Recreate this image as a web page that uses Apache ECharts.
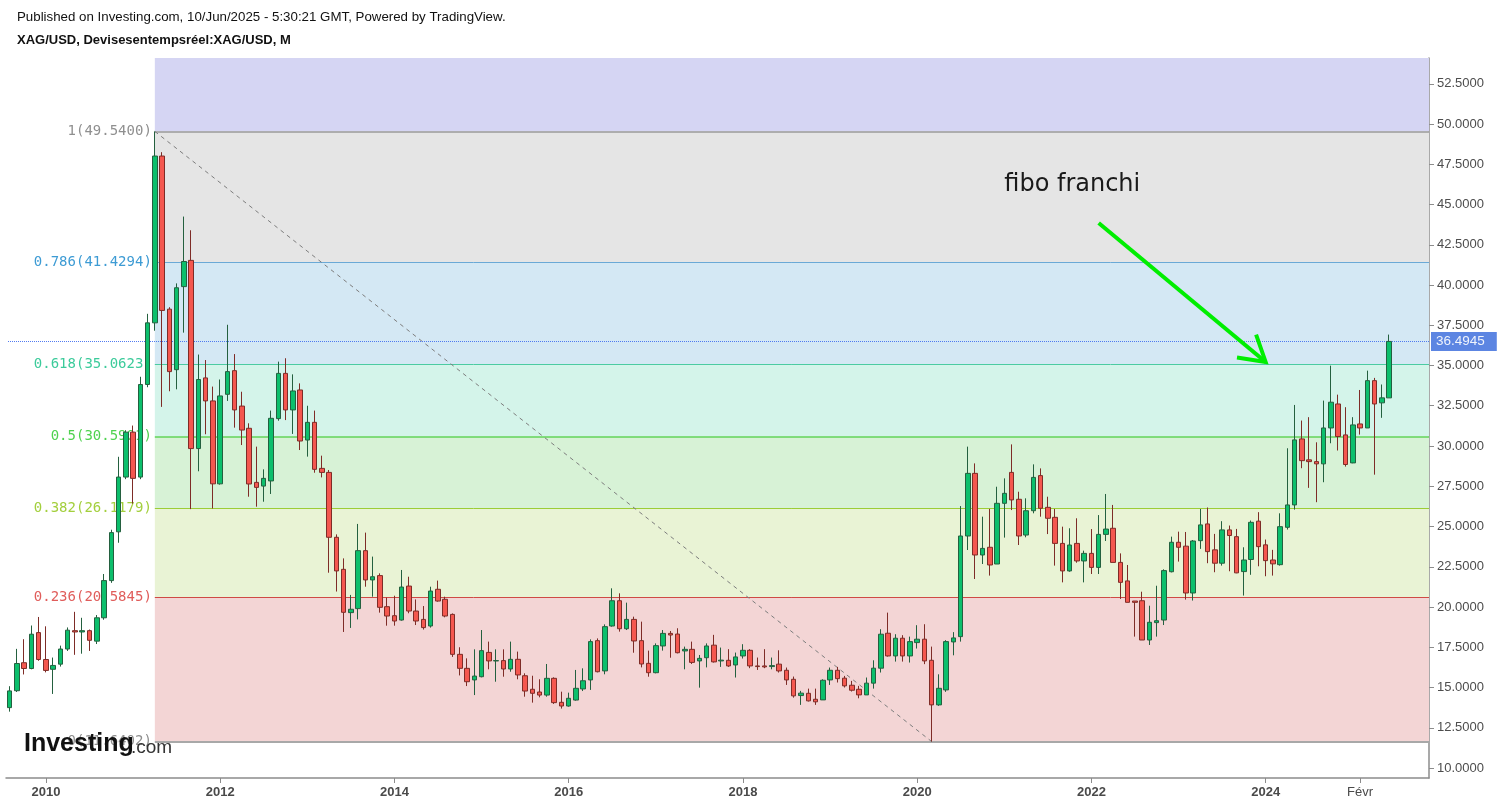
<!DOCTYPE html>
<html><head><meta charset="utf-8">
<script src="https://cdn.jsdelivr.net/npm/echarts@6/dist/echarts.min.js"></script>
<style>html,body{margin:0;padding:0;background:#fff}#c{width:1500px;height:807px}</style>
</head><body><div id="c"></div>
<script>
// ---- data ----
const firstYear = 2009, firstMonth = 8, monthCount = 196; // category slots Aug 2009 .. Nov 2025
const opens = [
13.75,14.80,16.54,16.18,18.41,
16.74,16.13,16.45,17.39,18.53,18.45,18.53,17.88,19.33,21.64,24.67,28.07,
30.86,28.07,33.82,37.65,48.01,38.50,34.74,39.90,41.53,29.84,34.23,32.80,
27.65,33.21,34.68,32.48,31.10,27.74,27.51,27.83,31.70,34.51,32.24,33.48,
30.37,31.47,28.61,28.36,24.33,22.34,19.65,19.90,23.50,21.68,21.95,20.02,
19.46,19.19,21.30,19.75,19.23,18.82,21.10,20.48,19.54,17.06,16.19,15.47,
15.67,17.18,16.65,16.67,16.15,16.75,15.73,14.89,14.72,14.53,15.57,14.08,
13.85,14.22,14.91,15.47,17.91,16.03,18.82,20.39,18.65,19.23,17.91,16.50,
15.92,17.58,18.36,18.32,17.27,17.37,16.65,16.85,17.63,16.65,16.69,16.40,
16.96,17.31,16.34,16.34,16.30,16.45,16.07,15.51,14.50,14.64,14.27,14.23,
15.47,16.07,15.58,15.14,14.89,14.54,15.27,16.20,18.37,16.96,18.06,16.96,
17.79,18.00,16.69,13.92,14.85,17.83,18.16,24.41,28.30,23.23,23.71,22.67,
26.44,28.36,26.69,24.47,25.98,28.16,26.19,25.57,23.95,22.24,23.95,22.86,
23.33,22.46,24.51,24.89,22.77,21.62,20.37,20.39,17.95,19.03,19.19,22.19,
24.02,23.78,20.87,24.12,25.16,23.55,22.72,24.79,24.37,22.20,22.95,25.33,
23.86,22.92,22.63,24.95,26.34,30.44,29.14,29.03,28.89,31.12,32.61,30.69,
28.95,31.37,31.12,34.06,32.68,32.99];
const closes = [
14.79,16.49,16.18,18.31,16.74,
16.06,16.37,17.39,18.56,18.45,18.53,17.93,19.33,21.64,24.62,28.07,30.86,
27.99,33.82,37.65,48.01,38.42,34.62,39.83,41.46,29.84,34.13,32.80,27.65,
33.11,34.62,32.24,30.99,27.64,27.43,27.99,31.72,34.51,32.24,33.42,30.31,
31.47,28.55,28.36,24.33,22.24,19.67,19.86,23.50,21.68,21.88,19.98,19.44,
19.13,21.24,19.75,19.13,18.72,20.99,20.37,19.44,17.06,16.19,15.36,15.71,
17.29,16.65,16.67,16.15,16.75,15.78,14.78,14.64,14.53,15.57,14.06,13.85,
14.33,14.95,15.42,17.85,15.98,18.78,20.39,18.65,19.23,17.89,16.46,15.92,
17.60,18.36,18.26,17.16,17.37,16.56,16.81,17.58,16.59,16.70,16.34,16.90,
17.31,16.34,16.30,16.28,16.36,16.03,15.47,14.48,14.65,14.17,14.11,15.45,
16.07,15.55,15.10,14.83,14.54,15.27,16.20,18.31,16.96,18.06,16.96,17.85,
18.00,16.65,13.92,14.95,17.85,18.08,24.41,28.30,23.23,23.64,22.61,26.44,
27.06,26.65,24.41,25.98,28.05,26.13,25.51,23.95,22.24,23.85,22.86,23.33,
22.46,24.51,24.84,22.77,21.53,20.29,20.29,17.95,19.05,19.15,22.26,24.02,
23.71,20.87,24.10,25.10,23.44,22.72,24.79,24.44,22.12,22.92,25.26,23.75,
22.88,22.68,24.99,26.34,30.38,29.09,29.03,28.89,31.12,32.72,30.59,28.85,
31.31,31.12,34.06,32.61,32.99,36.4945];
const lows = [
13.50,14.72,15.81,16.13,16.66,
15.94,14.60,16.30,17.27,17.03,17.10,17.27,17.70,19.21,21.50,23.99,27.94,
26.42,27.94,33.65,37.16,32.43,33.40,33.52,37.04,26.08,28.43,30.73,26.12,
27.60,32.80,31.14,30.06,26.85,26.23,26.54,27.02,31.57,31.61,30.75,29.75,
29.34,28.34,28.05,22.13,20.96,18.45,18.70,19.23,21.26,20.64,19.65,18.84,
18.84,19.15,19.61,18.88,18.60,18.72,20.33,19.36,16.90,15.75,15.09,14.53,
15.63,16.13,15.36,15.67,15.98,15.51,14.43,14.06,14.39,14.43,13.98,13.69,
13.81,14.18,14.78,14.85,15.94,15.82,18.78,18.47,18.57,17.16,16.25,15.67,
15.88,17.29,16.85,17.12,16.13,16.46,14.99,16.25,16.55,16.28,16.28,15.62,
16.80,16.20,16.09,16.20,16.13,15.93,15.16,14.37,13.92,14.13,13.92,14.23,
15.16,15.31,15.00,14.75,14.33,14.54,14.93,15.93,16.92,16.61,16.61,16.55,
17.42,16.45,11.64,13.86,14.73,17.00,17.85,23.54,21.74,22.67,21.95,22.67,
24.31,26.02,23.85,24.33,25.82,25.61,24.53,22.57,21.53,22.19,22.75,21.53,
22.05,22.05,24.10,22.77,20.50,20.29,18.16,17.95,17.64,18.16,18.88,22.15,
22.82,20.46,20.40,23.61,22.72,22.16,22.57,22.22,22.10,20.71,22.00,22.53,
21.91,21.95,22.57,24.81,26.05,28.62,27.40,26.51,27.75,30.17,29.72,28.72,
28.93,30.71,31.12,28.22,31.75,32.99];
const highs = [
15.08,17.40,18.00,18.85,19.38,
18.80,16.86,17.60,18.73,19.70,19.33,18.60,19.50,22.05,24.80,29.33,30.98,
31.27,34.30,38.21,49.54,48.25,38.62,40.10,44.25,43.40,35.68,35.34,33.69,
34.13,37.53,35.71,33.37,31.41,29.96,28.55,32.20,35.24,35.45,34.45,33.89,
32.50,32.20,29.40,28.51,24.51,23.02,20.75,25.16,24.62,23.13,22.09,20.58,
20.70,22.30,21.88,20.47,20.06,21.26,21.64,20.64,19.60,17.50,16.81,17.37,
18.57,17.85,17.37,17.37,17.85,17.23,15.88,15.73,15.51,16.46,15.63,14.74,
14.68,16.09,16.19,17.99,18.05,18.92,21.16,20.85,20.27,19.40,19.09,17.29,
17.74,18.57,18.51,18.68,17.54,17.85,17.02,17.74,18.27,17.48,17.38,17.17,
17.69,17.38,16.86,17.38,16.86,17.31,16.24,15.68,14.79,14.93,14.93,15.51,
16.24,16.28,15.72,15.41,15.10,15.62,16.69,18.62,19.65,18.31,18.25,18.16,
18.87,18.93,17.54,15.82,17.94,18.44,26.27,29.96,28.92,25.61,26.09,27.47,
27.99,30.10,27.16,26.75,28.86,28.61,26.85,26.09,24.99,24.89,25.51,23.50,
24.84,25.71,27.02,26.34,23.33,22.61,20.37,20.95,20.08,21.32,22.34,24.37,
24.68,24.66,24.16,26.09,26.18,24.54,25.33,25.06,24.85,23.71,25.37,25.89,
24.19,23.55,25.82,29.86,32.55,31.58,31.79,30.23,32.82,34.99,33.19,32.41,
31.79,33.48,34.68,34.23,33.82,36.92];

const xTickMonths = ['2010-01','2012-01','2014-01','2016-01','2018-01','2020-01','2022-01','2024-01','2025-02'];
const xTickTexts  = ['2010','2012','2014','2016','2018','2020','2022','2024','Févr'];
const yTickValues = [10,12.5,15,17.5,20,22.5,25,27.5,30,32.5,35,37.5,40,42.5,45,47.5,50,52.5];

const fibRatios = ['1','0.786','0.618','0.5','0.382','0.236','0'];
const fibPrices = [49.5400,41.4294,35.0623,30.5901,26.1179,20.5845,11.6402];
const fibStartMonth = '2011-04';
const fibEndMonth = '2020-03';
const lastPrice = 36.4945;
const noteText = 'fibo franchi';
const noteAt = ['2021-01', 46.2];
const arrowFrom = ['2022-02', 43.85];
const arrowTo = ['2024-01', 35.22];

// ---- build ----
const months = [];
for (let k = 0; k < monthCount; k++) {
  const t = (firstMonth - 1) + k;
  const y = firstYear + Math.floor(t / 12), m = t % 12 + 1;
  months.push(y + '-' + String(m).padStart(2, '0'));
}
const candleData = opens.map((o, i) => [o, closes[i], lows[i], highs[i]]);

const bandColors  = ['#d5d5f3','#e5e5e5','#d4e8f4','#d4f4ea','#d7f2d6','#e9f3d5','#f3d5d5'];
const lineColors  = ['#9a9a9a','#6aa9d6','#4ccba2','#62d35a','#9ccd36','#cf4a45','#a8a8a8'];
const lineWidths  = [1.5,1,1,1.5,1,1,2];
const labelColors = ['#8f8f8f','#3d9bd4','#3ccb9b','#4fd24f','#a3cf3d','#e05d5b','#8f8f8f'];

const bands = [[{xAxis: fibStartMonth, yAxis: fibPrices[0], itemStyle: {color: bandColors[0], opacity: 1}}, {}]];
for (let k = 0; k < 6; k++) {
  bands.push([{xAxis: fibStartMonth, yAxis: fibPrices[k + 1], itemStyle: {color: bandColors[k + 1], opacity: 1}},
              {yAxis: fibPrices[k]}]);
}

const chart = echarts.init(document.getElementById('c'));
const option = {
  animation: false,
  backgroundColor: '#ffffff',
  grid: {left: 6, right: 71, top: 58, bottom: 29, containLabel: false},
  xAxis: {
    type: 'category', data: months, boundaryGap: true,
    axisLine: {show: true, lineStyle: {color: '#8c8c8c', width: 1.5}},
    axisTick: {show: true, alignWithLabel: true, length: 5, lineStyle: {color: '#8c8c8c'},
               interval: (i, v) => xTickMonths.includes(v)},
    axisLabel: {
      interval: (i, v) => xTickMonths.includes(v), margin: 8,
      formatter: v => { const t = xTickTexts[xTickMonths.indexOf(v)]; return /^\d+$/.test(t) ? '{y|' + t + '}' : '{m|' + t + '}'; },
      rich: {y: {fontWeight: 'bold', fontSize: 13, color: '#4a4a4a', fontFamily: 'Liberation Sans'},
             m: {fontSize: 13, color: '#4a4a4a', fontFamily: 'Liberation Sans'}}
    },
    splitLine: {show: false}
  },
  yAxis: {
    type: 'value', position: 'right', scale: true,
    min: 10 - 10 / 16.1, max: 10 + 710 / 16.1,
    axisLine: {show: true, lineStyle: {color: '#8c8c8c', width: 1.5}},
    axisTick: {show: true, length: 5, lineStyle: {color: '#8c8c8c'}, customValues: yTickValues},
    axisLabel: {customValues: yTickValues, formatter: v => v.toFixed(4), color: '#4d4d4d', fontSize: 13,
                fontFamily: 'Liberation Sans', margin: 8},
    splitLine: {show: false}
  },
  series: [{
    type: 'candlestick', data: candleData, clip: false, barWidth: 5, z: 2,
    itemStyle: {color: '#0cbf6c', color0: '#f4574f', borderColor: '#24603f', borderColor0: '#7e2c27', borderWidth: 1},
    markArea: {silent: true, z: 1, data: bands}
  }]
};
chart.setOption(option);

// ---- second pass: lines/annotations placed through the chart's own scales ----
const px = (m, v) => chart.convertToPixel({gridIndex: 0}, [months.indexOf(m), v]);
const xStart = px(fibStartMonth, fibPrices[0])[0];
const xFirst = px(months[0], 20)[0];
const xLast = px(months[months.length - 1], 20)[0];
const xPrev = px(months[months.length - 2], 20)[0];
const halfBand = (xLast - xPrev) / 2;
const xEnd = xLast + halfBand;
const xBegin = xFirst - halfBand + 2;

const mlData = [];
fibPrices.forEach((p, k) => {
  const y = chart.convertToPixel({yAxisIndex: 0}, p);
  mlData.push([
    {x: xStart, y: y,
     lineStyle: {color: lineColors[k], width: lineWidths[k], type: 'solid'},
     label: {show: true, position: 'start', distance: 3, formatter: fibRatios[k] + '(' + p.toFixed(4) + ')',
             color: labelColors[k], fontSize: 14, fontFamily: 'DejaVu Sans Mono'}},
    {x: xEnd, y: y}
  ]);
});
mlData.push([
  {xAxis: fibStartMonth, yAxis: fibPrices[0], lineStyle: {color: '#7d7d7d', width: 1, type: [4, 4]}, label: {show: false}},
  {xAxis: fibEndMonth, yAxis: fibPrices[6]}
]);
const yLast = Math.round(chart.convertToPixel({yAxisIndex: 0}, lastPrice)) + 0.5;
mlData.push([
  {x: xBegin, y: yLast,
   lineStyle: {color: '#3f6ef0', width: 1, type: 'dotted', opacity: 0.9},
   label: {show: true, position: 'end', distance: 2, formatter: lastPrice.toFixed(4), color: '#ffffff',
           backgroundColor: '#4a78df', padding: [3, 12, 2, 5], fontSize: 13.5, fontFamily: 'Liberation Sans'}},
  {x: xEnd, y: yLast}
]);

chart.setOption({series: [{markLine: {silent: true, z: 1.5, symbol: ['none', 'none'], data: mlData}}]});

const a0 = px(arrowFrom[0], arrowFrom[1]);
const a1 = px(arrowTo[0], arrowTo[1]);
const ang = Math.atan2(a0[1] - a1[1], a0[0] - a1[0]);
const bl = 29, spread = 31 * Math.PI / 180;
const b1 = [a1[0] + bl * Math.cos(ang - spread), a1[1] + bl * Math.sin(ang - spread)];
const b2 = [a1[0] + bl * Math.cos(ang + spread), a1[1] + bl * Math.sin(ang + spread)];
const nt = px(noteAt[0], noteAt[1]);

chart.setOption({
  graphic: [
    {type: 'text', x: 17, y: 17, z: 50, style: {text: 'Published on Investing.com, 10/Jun/2025 - 5:30:21 GMT, Powered by TradingView.',
      fill: '#111', fontSize: 13.3, fontFamily: 'Liberation Sans', verticalAlign: 'middle'}},
    {type: 'text', x: 17, y: 40, z: 50, style: {text: 'XAG/USD, Devisesentempsréel:XAG/USD, M',
      fill: '#111', fontSize: 13, fontWeight: 'bold', fontFamily: 'Liberation Sans', verticalAlign: 'middle'}},
    {type: 'text', x: nt[0], y: nt[1], z: 50, style: {text: noteText, fill: '#1a1a1a', fontSize: 24,
      fontFamily: 'DejaVu Sans', verticalAlign: 'middle', align: 'left'}},
    {type: 'line', z: 50, shape: {x1: a0[0], y1: a0[1], x2: a1[0], y2: a1[1]},
      style: {stroke: '#00ee00', lineWidth: 4}},
    {type: 'polyline', z: 50, shape: {points: [b1, a1, b2]},
      style: {stroke: '#00ee00', lineWidth: 4, fill: null, lineJoin: 'miter'}},
    {type: 'text', x: 24, y: 757, z: 60, style: {text: 'Investing', fill: '#111', fontSize: 25, fontWeight: 'bold',
      fontFamily: 'Liberation Sans', verticalAlign: 'bottom'}},
    {type: 'text', x: 131, y: 757, z: 60, style: {text: '.com', fill: '#333', fontSize: 19,
      fontFamily: 'Liberation Sans', verticalAlign: 'bottom'}}
  ]
});
</script>
</body></html>
